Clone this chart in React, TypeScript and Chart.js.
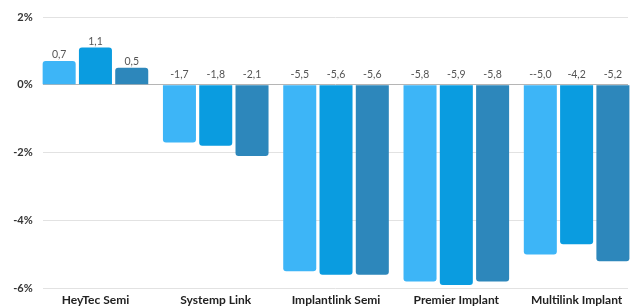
import React, { useEffect, useRef } from "react";
import { Chart, registerables } from "chart.js";

Chart.register(...registerables);

const categories = ["HeyTec Semi", "Systemp Link", "Implantlink Semi", "Premier Implant", "Multilink Implant"];
const series1 = [0.7, -1.7, -5.5, -5.8, -5.0];
const series2 = [1.1, -1.8, -5.6, -5.9, -4.7];
const series3 = [0.5, -2.1, -5.6, -5.8, -5.2];
const labels1 = ["0,7", "-1,7", "-5,5", "-5,8", "--5,0"];
const labels2 = ["1,1", "-1,8", "-5,6", "-5,9", "-4,2"];
const labels3 = ["0,5", "-2,1", "-5,6", "-5,8", "-5,2"];
const seriesNames = ["Serie 1", "Serie 2", "Serie 3"];
const colors = ["#3DB5F7", "#0A9CE0", "#2D87BB"];
const yTicks = [2, 0, -2, -4, -6];

const valueLabels = [labels1, labels2, labels3];

const shiftXPlugin = {
  id: "shiftX",
  afterLayout(chart: any) {
    const x = chart.scales.x;
    const ca = chart.chartArea;
    const w = ca.right - ca.left;
    x.left = ca.left - 7.4;
    x.right = x.left + w * 1.0276;
    x.width = x.right - x.left;
    x.configure();
  },
};

const labelPlugin = {
  id: "valueLabels",
  afterDatasetsDraw(chart: any) {
    const ctx = chart.ctx;
    const zero = chart.scales.y.getPixelForValue(0);
    ctx.save();
    ctx.font = "10.5px Lato";
    ctx.fillStyle = "#555";
    ctx.textAlign = "center";
    ctx.textBaseline = "bottom";
    chart.data.datasets.forEach((ds: any, di: number) => {
      const meta = chart.getDatasetMeta(di);
      meta.data.forEach((bar: any, i: number) => {
        const v = ds.data[i];
        const y = v >= 0 ? bar.y - 1 : zero - 5;
        ctx.fillText(valueLabels[di][i], bar.x, y);
      });
    });
    ctx.restore();
  },
};

export default function App() {
  const ref = useRef<HTMLCanvasElement>(null);
  useEffect(() => {
    const chart = new Chart(ref.current!, {
      type: "bar",
      data: {
        labels: categories,
        datasets: [series1, series2, series3].map((d, i) => ({
          label: seriesNames[i],
          data: d,
          backgroundColor: colors[i],
          borderRadius: 3,
          categoryPercentage: 0.905,
          barPercentage: 0.91,
        })),
      },
      options: {
        animation: false,
        responsive: true,
        maintainAspectRatio: false,
        layout: { padding: { top: 17, right: 6, left: 0, bottom: 0 } },
        plugins: { legend: { display: false }, tooltip: { enabled: false } },
        scales: {
          x: {
            grid: { display: false },
            border: { display: false },
            ticks: {
              font: { family: "Lato", size: 12, weight: "bold" },
              color: "#222",
              padding: -3,
              maxRotation: 0,
              autoSkip: false,
            },
            afterFit(scale: any) {
              scale.height = 18.7;
            },
          },
          y: {
            min: -6,
            max: 2,
            afterBuildTicks(scale: any) {
              scale.ticks = yTicks.map((v) => ({ value: v }));
            },
            grid: {
              drawTicks: false,
              color: (c: any) => (c.tick && c.tick.value === 0 ? "#b5b5b5" : "#e2e2e2"),
              lineWidth: 1,
            },
            border: { display: false },
            ticks: {
              font: { family: "Lato", size: 11, weight: "bold" },
              color: "#333",
              padding: 10,
              callback: (v: any) => `${v}%`,
            },
            afterFit(scale: any) {
              scale.width = 42.7;
            },
          },
        },
      },
      plugins: [shiftXPlugin, labelPlugin],
    });
    return () => chart.destroy();
  }, []);
  return (
    <div style={{ position: "fixed", left: 0, top: 0, width: 634, height: 307, background: "#fff" }}>
      <canvas ref={ref} />
    </div>
  );
}
